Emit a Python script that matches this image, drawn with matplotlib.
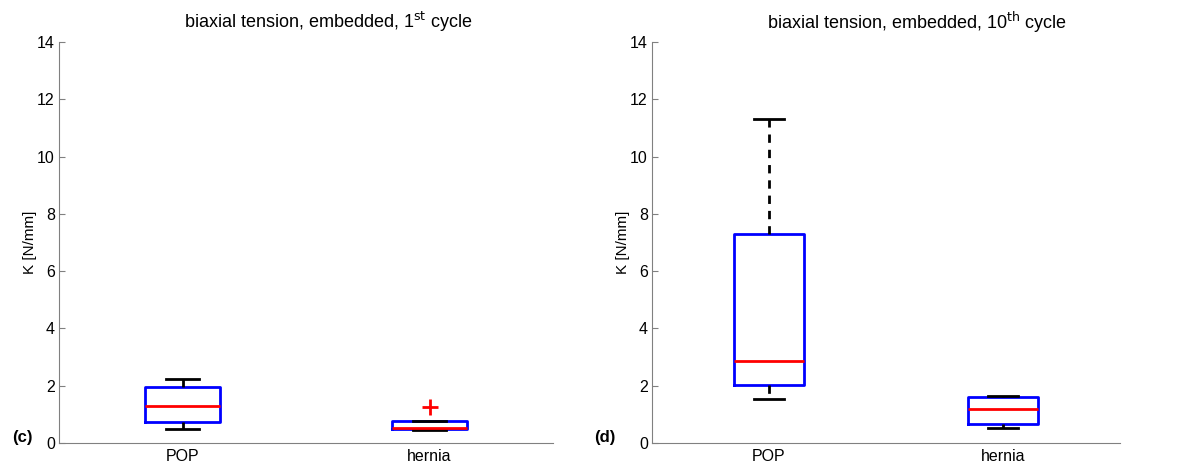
import numpy as np
import matplotlib.pyplot as plt

plt.rcParams['font.family'] = ['Liberation Sans', 'DejaVu Sans']

# datos
grupos = ["POP", "hernia"]

# (c) 1er ciclo
c_bajo = [0.49, 0.47]
c_q1 = [0.74, 0.49]
c_mediana = [1.28, 0.51]
c_q3 = [1.94, 0.77]
c_alto = [2.24, 0.77]
c_atipicos = [[], [1.27]]

# (d) 10mo ciclo
d_bajo = [1.52, 0.52]
d_q1 = [2.02, 0.66]
d_mediana = [2.86, 1.18]
d_q3 = [7.28, 1.59]
d_alto = [11.3, 1.63]
d_atipicos = [[], []]

yticks = [0, 2, 4, 6, 8, 10, 12, 14]


def armar_stats(bajo, q1, med, q3, alto, atip):
    stats = []
    for i in range(len(grupos)):
        stats.append({"label": grupos[i], "whislo": bajo[i], "q1": q1[i], "med": med[i],
                      "q3": q3[i], "whishi": alto[i], "fliers": atip[i]})
    return stats


def dibujar(ax, stats):
    ax.bxp(stats, positions=[1, 2], widths=0.3, capwidths=0.13,
           boxprops=dict(color="blue", linewidth=2),
           medianprops=dict(color="red", linewidth=2),
           whiskerprops=dict(color="black", linewidth=2, linestyle=(0, (3, 2.5))),
           capprops=dict(color="black", linewidth=2),
           flierprops=dict(marker="+", markeredgecolor="red", markersize=11, markeredgewidth=2))
    ax.set_xlim(0.5, 2.5)
    ax.set_ylim(0, 14)
    ax.set_yticks(yticks)
    ax.set_xticks([1, 2])
    ax.set_xticklabels(grupos)
    ax.tick_params(axis="y", direction="in", length=4, labelsize=11.5, color="0.5", pad=3)
    ax.tick_params(axis="x", length=0, labelsize=11.5, pad=4)
    ax.spines["top"].set_visible(False)
    ax.spines["right"].set_visible(False)
    ax.spines["left"].set_color("0.5")
    ax.spines["bottom"].set_color("0.5")
    ax.set_ylabel("K [N/mm]", fontsize=11, labelpad=0)


fig = plt.figure(figsize=(11.84, 4.65), dpi=100)
W, H = 1184, 465
ax1 = fig.add_axes([59 / W, 22 / H, 494 / W, 401 / H])
ax2 = fig.add_axes([652 / W, 22 / H, 468 / W, 401 / H])

dibujar(ax1, armar_stats(c_bajo, c_q1, c_mediana, c_q3, c_alto, c_atipicos))
dibujar(ax2, armar_stats(d_bajo, d_q1, d_mediana, d_q3, d_alto, d_atipicos))

fig.text(328 / W, 1 - 22 / H, r"biaxial tension, embedded, 1$^{\mathrm{st}}$ cycle",
         ha="center", va="center", fontsize=13)
fig.text(917 / W, 1 - 22 / H, r"biaxial tension, embedded, 10$^{\mathrm{th}}$ cycle",
         ha="center", va="center", fontsize=13)
fig.text(22 / W, 1 - 437 / H, "(c)", ha="center", va="center", fontsize=12, fontweight="bold")
fig.text(605 / W, 1 - 437 / H, "(d)", ha="center", va="center", fontsize=12, fontweight="bold")

plt.savefig("out.png", dpi=100)
